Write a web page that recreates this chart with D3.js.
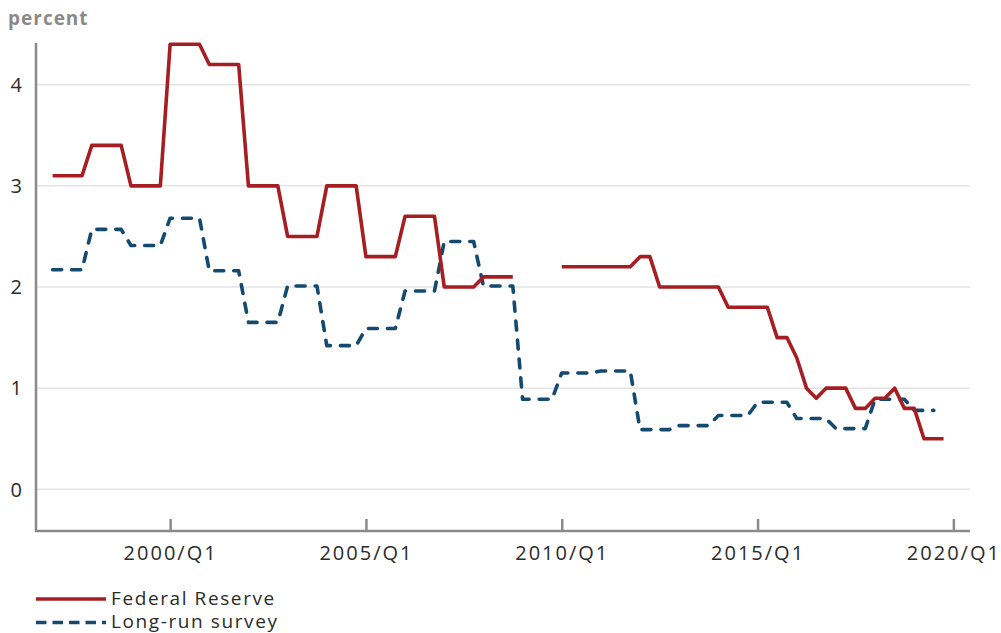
<!DOCTYPE html>
<html>
<head>
<meta charset="utf-8">
<script src="https://cdn.jsdelivr.net/npm/d3@7"></script>
<style>
  html, body { margin: 0; padding: 0; background: #fff; }
  svg { display: block; font-family: "Open Sans", "Noto Sans", sans-serif; }
</style>
</head>
<body>
<svg id="chart" width="1001" height="633"></svg>
<script>
// ---- Data (quarterly, 1997/Q1 .. 2019/Q4) ----
const firstYear = 1997;
const lastYear = 2019;
const quarters = [];
for (let y = firstYear; y <= lastYear; y++) for (let q = 1; q <= 4; q++) quarters.push(y + "/Q" + q);

const federalReserve = [
  3.1, 3.1, 3.1, 3.1,   // 1997
  3.4, 3.4, 3.4, 3.4,   // 1998
  3.0, 3.0, 3.0, 3.0,   // 1999
  4.4, 4.4, 4.4, 4.4,   // 2000
  4.2, 4.2, 4.2, 4.2,   // 2001
  3.0, 3.0, 3.0, 3.0,   // 2002
  2.5, 2.5, 2.5, 2.5,   // 2003
  3.0, 3.0, 3.0, 3.0,   // 2004
  2.3, 2.3, 2.3, 2.3,   // 2005
  2.7, 2.7, 2.7, 2.7,   // 2006
  2.0, 2.0, 2.0, 2.0,   // 2007
  2.1, 2.1, 2.1, 2.1,   // 2008
  null, null, null, null, // 2009
  2.2, 2.2, 2.2, 2.2,   // 2010
  2.2, 2.2, 2.2, 2.2,   // 2011
  2.3, 2.3, 2.0, 2.0,   // 2012
  2.0, 2.0, 2.0, 2.0,   // 2013
  2.0, 1.8, 1.8, 1.8,   // 2014
  1.8, 1.8, 1.5, 1.5,   // 2015
  1.3, 1.0, 0.9, 1.0,   // 2016
  1.0, 1.0, 0.8, 0.8,   // 2017
  0.9, 0.9, 1.0, 0.8,   // 2018
  0.8, 0.5, 0.5, 0.5    // 2019
];

const longRunSurvey = [
  2.17, 2.17, 2.17, 2.17, // 1997
  2.57, 2.57, 2.57, 2.57, // 1998
  2.41, 2.41, 2.41, 2.41, // 1999
  2.68, 2.68, 2.68, 2.68, // 2000
  2.16, 2.16, 2.16, 2.16, // 2001
  1.65, 1.65, 1.65, 1.65, // 2002
  2.01, 2.01, 2.01, 2.01, // 2003
  1.42, 1.42, 1.42, 1.42, // 2004
  1.59, 1.59, 1.59, 1.59, // 2005
  1.96, 1.96, 1.96, 1.96, // 2006
  2.45, 2.45, 2.45, 2.45, // 2007
  2.01, 2.01, 2.01, 2.01, // 2008
  0.89, 0.89, 0.89, 0.89, // 2009
  1.15, 1.15, 1.15, 1.15, // 2010
  1.17, 1.17, 1.17, 1.17, // 2011
  0.59, 0.59, 0.59, 0.59, // 2012
  0.63, 0.63, 0.63, 0.63, // 2013
  0.73, 0.73, 0.73, 0.73, // 2014
  0.86, 0.86, 0.86, 0.86, // 2015
  0.70, 0.70, 0.70, 0.70, // 2016
  0.60, 0.60, 0.60, 0.60, // 2017
  0.89, 0.89, 0.89, 0.89, // 2018
  0.78, 0.78, 0.78, null  // 2019
];

const xTickLabels = ["2000/Q1", "2005/Q1", "2010/Q1", "2015/Q1", "2020/Q1"];
const yTicks = [0, 1, 2, 3, 4];
const seriesNames = ["Federal Reserve", "Long-run survey"];
const seriesColors = ["#a61e22", "#154a70"];

// ---- Scales ----
// quarter index: 0 = 2000/Q1
const qIndex = label => {
  const [y, q] = label.split("/Q").map(Number);
  return (y - 2000) * 4 + (q - 1);
};
const x = d3.scaleLinear().domain([-13.7, 81.7]).range([36, 970]);
const y = d3.scaleLinear().domain([0, 4]).range([489.3, 84.7]);
const axisY = 531;

const svg = d3.select("#chart");

// gridlines
svg.append("g").selectAll("line").data(yTicks).join("line")
  .attr("x1", 37).attr("x2", 970)
  .attr("y1", d => y(d)).attr("y2", d => y(d))
  .attr("stroke", "#e4e4e4").attr("stroke-width", 1.5);

// y labels
svg.append("g").selectAll("text").data(yTicks).join("text")
  .attr("x", 22).attr("y", d => y(d)).attr("dy", "0.36em")
  .attr("text-anchor", "end")
  .attr("font-size", 20).attr("fill", "#2b2b2b")
  .text(d => d);

// "percent" label
svg.append("text").attr("x", 8).attr("y", 25)
  .attr("font-size", 19).attr("font-weight", 700).attr("fill", "#8a8a8a")
  .attr("letter-spacing", 1)
  .text("percent");

// lines
const line = d3.line()
  .defined(d => d.v != null)
  .x(d => x(qIndex(d.q)))
  .y(d => y(d.v));

const fedData = quarters.map((q, i) => ({ q, v: federalReserve[i] }));
const survData = quarters.map((q, i) => ({ q, v: longRunSurvey[i] }));

svg.append("path").datum(survData)
  .attr("d", line).attr("fill", "none")
  .attr("stroke", seriesColors[1]).attr("stroke-width", 3.6)
  .attr("stroke-dasharray", "9,10").attr("stroke-linecap", "round")
  .attr("stroke-linejoin", "round");

svg.append("path").datum(fedData)
  .attr("d", line).attr("fill", "none")
  .attr("stroke", seriesColors[0]).attr("stroke-width", 3.6)
  .attr("stroke-linejoin", "round");

// axes lines
svg.append("line").attr("x1", 36).attr("x2", 36).attr("y1", 43).attr("y2", axisY + 1)
  .attr("stroke", "#8a8a8c").attr("stroke-width", 2.5);

const xAxis = d3.axisBottom(x)
  .tickValues(xTickLabels.map(qIndex))
  .tickFormat((d, i) => xTickLabels[i])
  .tickSize(-12).tickSizeOuter(0);

const gx = svg.append("g").attr("transform", `translate(0,${axisY})`).call(xAxis);
gx.select(".domain").attr("stroke", "#8a8a8c").attr("stroke-width", 2.5)
  .attr("d", `M35,0H970`);
gx.selectAll(".tick line").attr("stroke", "#8a8a8c").attr("stroke-width", 2.5);
gx.selectAll(".tick text").attr("y", 29).attr("dy", 0)
  .attr("font-size", 20).attr("fill", "#2b2b2b")
  .attr("letter-spacing", 2)
  .attr("font-family", "'Open Sans', 'Noto Sans', sans-serif");

// legend
const legend = svg.append("g");
const legendRows = [
  { name: seriesNames[0], color: seriesColors[0], dash: null, y: 599, ty: 604.5 },
  { name: seriesNames[1], color: seriesColors[1], dash: "10.5,6", y: 622.5, ty: 628 }
];
legendRows.forEach(r => {
  legend.append("line").attr("x1", 36).attr("x2", 106).attr("y1", r.y).attr("y2", r.y)
    .attr("stroke", r.color).attr("stroke-width", 3.6)
    .attr("stroke-dasharray", r.dash);
  legend.append("text").attr("x", 111).attr("y", r.ty)
    .attr("font-size", 19).attr("fill", "#2b2b2b")
    .attr("letter-spacing", 1.6).text(r.name);
});
</script>
</body>
</html>
